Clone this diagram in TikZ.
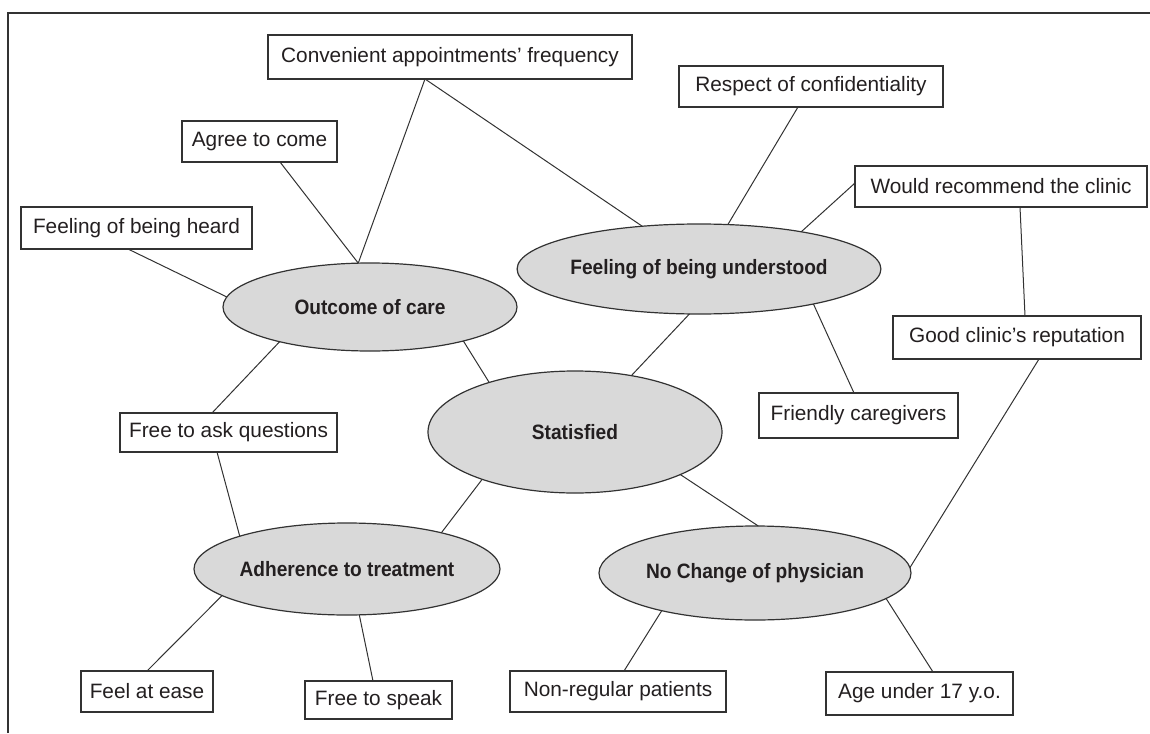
\documentclass[tikz,border=0pt]{standalone}
\usepackage{fontspec}
\setmainfont{Liberation Sans}
\newfontfamily\ellfont{Liberation Sans}[FakeStretch=0.92]
\usetikzlibrary{shapes.geometric}
\definecolor{ink}{RGB}{35,31,32}
\definecolor{rule}{RGB}{50,50,50}
\definecolor{ellfill}{RGB}{217,217,217}
\begin{document}
\begin{tikzpicture}[x=1pt,y=-1pt,
  every node/.style={text=ink, font=\fontsize{20.8}{24}\selectfont},
  itembox/.style={draw=rule, line width=1.3pt, fill=white, inner sep=0pt, outer sep=0pt},
  factor/.style={ellipse, draw=rule, line width=1.2pt, fill=ellfill, inner sep=0pt, outer sep=0pt,
    font=\ellfont\bfseries\fontsize{20.8}{24}\selectfont},
  link/.style={draw=rule, line width=1pt}]
\useasboundingbox (0,0) rectangle (1150,733);

% open frame: top and left rules only
\draw[rule, line width=1.4pt] (8,733) -- (8,13) -- (1150,13);

% central factors
\node[factor, minimum width=294pt, minimum height=88pt]  (outcome)    at (370,307) {Outcome of care};
\node[factor, minimum width=360pt, minimum height=90pt]  (understood) at (699,269) {Feeling of being understood};
\node[factor, minimum width=294pt, minimum height=122pt] (satisfied)  at (575,432) {Statisfied};
\node[factor, minimum width=306pt, minimum height=92pt]  (adherence)  at (347,569) {Adherence to treatment};
\node[factor, minimum width=312pt, minimum height=94pt]  (nochange)   at (755,573) {No Change of physician};

% items
\node[itembox, minimum width=364pt, minimum height=44pt] (conv)       at (450,57)     {Convenient appointments’ frequency};
\node[itembox, minimum width=155pt, minimum height=41pt] (agree)      at (259.5,141.5) {Agree to come};
\node[itembox, minimum width=231pt, minimum height=42pt] (heard)      at (136.5,228)  {Feeling of being heard};
\node[itembox, minimum width=264pt, minimum height=41pt] (respect)    at (811,86.5)   {Respect of confidentiality};
\node[itembox, minimum width=292pt, minimum height=41pt] (recommend)  at (1001,186.5) {Would recommend the clinic};
\node[itembox, minimum width=248pt, minimum height=43pt] (reputation) at (1017,337.5) {Good clinic’s reputation};
\node[itembox, minimum width=199pt, minimum height=45pt] (friendly)   at (858.5,415.5) {Friendly caregivers};
\node[itembox, minimum width=217pt, minimum height=39pt] (freeask)    at (228.5,432.5) {Free to ask questions};
\node[itembox, minimum width=132pt, minimum height=41pt] (ease)       at (147,691.5)  {Feel at ease};
\node[itembox, minimum width=147pt, minimum height=38pt] (speak)      at (378.5,700)  {Free to speak};
\node[itembox, minimum width=216pt, minimum height=41pt] (nonreg)     at (618,691.5)  {Non-regular patients};
\node[itembox, minimum width=187pt, minimum height=43pt] (age)        at (919.5,693.5) {Age under 17 y.o.};

% connectors
\draw[link] ([xshift=-25pt]conv.south) -- (outcome.105);
\draw[link] ([xshift=20.5pt]agree.south) -- (outcome.105);
\draw[link] ([xshift=-25pt]conv.south) -- (understood.143);
\draw[link] ([xshift=-8.5pt]heard.south) -- (outcome.176);
\draw[link] ([xshift=-13pt]respect.south) -- (understood.57);
\draw[link] ([yshift=3.5pt]recommend.west) -- (understood.20);
\draw[link] ([xshift=19pt]recommend.south) -- ([xshift=8pt]reputation.north);
\draw[link] ([xshift=22pt]reputation.south) -- (nochange.2.6);
\draw[link] (understood.343.5) -- ([xshift=-4.5pt]friendly.north);
\draw[link] (outcome.201) -- ([xshift=-16.5pt]freeask.north);
\draw[link] (outcome.340) -- (satisfied.150);
\draw[link] (understood.258) -- (satisfied.45);
\draw[link] ([xshift=-11.5pt]freeask.south) -- (adherence.163);
\draw[link] (satisfied.207.3) -- (adherence.21.5);
\draw[link] (satisfied.338.7) -- (nochange.86.3);
\draw[link] (adherence.192.6) -- (ease.north);
\draw[link] (adherence.285.8) -- ([xshift=-5.5pt]speak.north);
\draw[link] (nochange.202.8) -- ([xshift=6pt]nonreg.north);
\draw[link] (nochange.349.4) -- ([xshift=13.5pt]age.north);
\end{tikzpicture}
\end{document}
